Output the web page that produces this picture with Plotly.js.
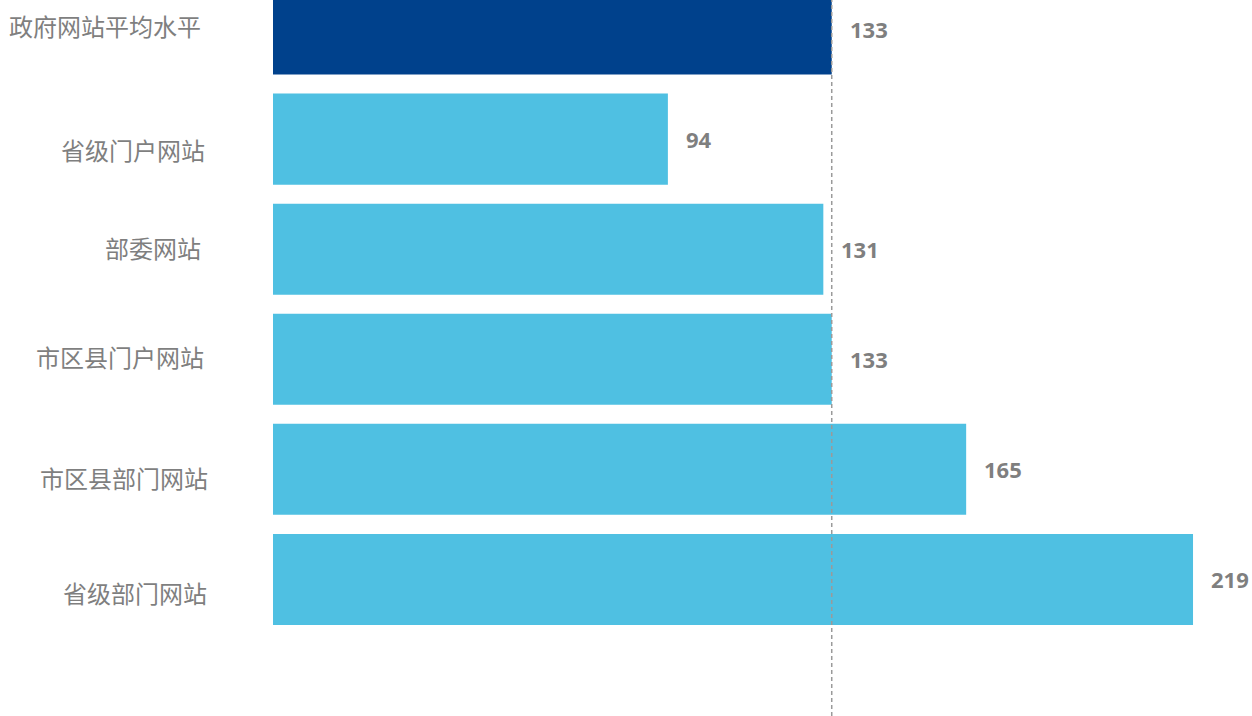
<!DOCTYPE html>
<html>
<head>
<meta charset="utf-8">
<script src="https://cdn.plot.ly/plotly-3.0.1.min.js"></script>
<style>html,body{margin:0;padding:0;background:#fff;}#chart{width:1252px;height:716px;}</style>
</head>
<body>
<div id="chart"></div>
<script>
var categories = ["政府网站平均水平", "省级门户网站", "部委网站", "市区县门户网站", "市区县部门网站", "省级部门网站"];
var values = [133, 94, 131, 133, 165, 219];
var averageValue = 133;
var barColors = ["#00418C", "#4FC0E2", "#4FC0E2", "#4FC0E2", "#4FC0E2", "#4FC0E2"];

// per-label pixel nudges of the category labels (style only)
var labelXShift = [-70, -66, -70, -67, -63, -64];
var labelYShift = [4, -10.5, 1.5, 3, -8, -13.5];

var trace = {
  type: "bar",
  orientation: "h",
  x: values,
  y: categories,
  marker: { color: barColors, line: { width: 0 } },
  hoverinfo: "none",
  showlegend: false
};

var valueLabels = values.map(function (v, i) {
  return {
    x: v, y: categories[i], xref: "x", yref: "y",
    text: String(v), showarrow: false,
    xanchor: "left", yanchor: "middle", xshift: 16,
    font: { family: "Open Sans, Lato, sans-serif", size: 22, color: "#7F7F7F", weight: "bold" }
  };
});

var catLabels = categories.map(function (c, i) {
  return {
    x: 0, y: c, xref: "x", yref: "y",
    text: c, showarrow: false,
    xanchor: "right", yanchor: "middle",
    xshift: labelXShift[i], yshift: labelYShift[i],
    font: { family: "Noto Sans CJK SC, sans-serif", size: 24, color: "#7F7F7F" }
  };
});

var layout = {
  width: 1252, height: 716,
  margin: { l: 273, r: 0, t: 0, b: 0, pad: 0 },
  paper_bgcolor: "#ffffff", plot_bgcolor: "#ffffff",
  bargap: 0.173,
  xaxis: {
    range: [0, 233.04], showgrid: false, zeroline: false, showline: false,
    showticklabels: false, ticks: ""
  },
  yaxis: {
    type: "category",
    range: [6.241, -0.264],
    showgrid: false, zeroline: false, showline: false, ticks: "",
    showticklabels: false
  },
  shapes: [{
    type: "line", xref: "x", yref: "paper",
    x0: averageValue, x1: averageValue, y0: 0, y1: 1,
    line: { color: "#9A9A9A", width: 1.5, dash: "4px,3px" },
    layer: "above"
  }],
  annotations: valueLabels.concat(catLabels)
};

Plotly.newPlot("chart", [trace], layout, { displayModeBar: false, staticPlot: true });
</script>
</body>
</html>
